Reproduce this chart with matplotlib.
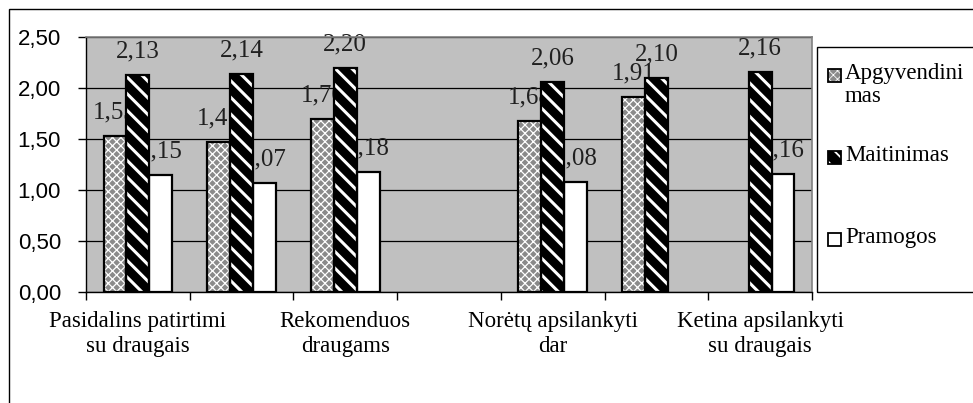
import numpy as np
import matplotlib
matplotlib.use("Agg")
import matplotlib.pyplot as plt
from matplotlib.patches import Rectangle

# Seven categories, Excel only printed every second label.
categories = [
    "Pasidalins patirtimi\nsu draugais", "",
    "Rekomenduos\ndraugams", "",
    "Norėtų apsilankyti\ndar", "",
    "Ketina apsilankyti\nsu draugais",
]
series = ["Apgyvendinimas", "Maitinimas", "Pramogos"]
legend_labels = ["Apgyvendini\nmas", "Maitinimas", "Pramogos"]
apgyvendinimas = [1.53, 1.47, 1.70, np.nan, 1.68, 1.91, np.nan]
maitinimas = [2.13, 2.14, 2.20, np.nan, 2.06, 2.10, 2.16]
pramogos = [1.15, 1.07, 1.18, np.nan, 1.08, np.nan, 1.16]
yticks = [0.0, 0.5, 1.0, 1.5, 2.0, 2.5]

SERIF = "Liberation Serif"
SANS = "Liberation Sans"

W, H = 973, 403
fig = plt.figure(figsize=(W / 100, H / 100), dpi=100)
ax = fig.add_axes([86 / W, 1 - 292 / H, (812 - 86) / W, (292 - 37) / H])
ax.set_facecolor("#c0c0c0")

# styles: (face, hatch, hatch colour, hatch linewidth)
styles = [
    ("#8a8a8a", "xxxx", "white", 0.9),
    ("black", "\\\\", "white", 2.2),
    ("white", "", "white", 1.0),
]
values = [apgyvendinimas, maitinimas, pramogos]

x = np.arange(len(categories))
bw = 0.22
for i, (vals, (fc, hatch, hc, hlw)) in enumerate(zip(values, styles)):
    pos = x + (i - 1) * bw
    with plt.rc_context({"hatch.linewidth": hlw}):
        ax.bar(pos, vals, bw, facecolor=fc, edgecolor=hc, hatch=hatch,
               linewidth=0, zorder=3)
    ax.bar(pos, vals, bw, fill=False, edgecolor="black", linewidth=1.6, zorder=4)
    # value labels sit behind the bars, as in the source
    for px, v in zip(pos, vals):
        if np.isnan(v):
            continue
        ax.annotate(f"{v:.2f}".replace(".", ","), (px, v), xytext=(0, 9),
                    textcoords="offset points", ha="center", va="bottom",
                    fontsize=18, family=SERIF, color="#202020", zorder=2.5)

ax.set_xlim(-0.5, len(categories) - 0.5)
ax.set_ylim(0, 2.5)
ax.set_yticks(yticks)
ax.set_yticklabels([f"{t:.2f}".replace(".", ",") for t in yticks],
                   family=SANS, fontsize=16)
ax.yaxis.grid(True, color="black", linewidth=0.9, zorder=1)
ax.set_axisbelow(True)

ax.set_xticks(x)
ax.set_xticklabels(categories, family=SERIF, fontsize=16.5, linespacing=1.2)
ax.set_xticks(np.arange(len(categories) + 1) - 0.5, minor=True)
ax.tick_params(axis="x", which="major", length=0, pad=14)
ax.tick_params(axis="x", which="minor", length=6, width=1, color="black")
ax.tick_params(axis="y", length=6, width=1, pad=12)

for side in ("top", "right"):
    ax.spines[side].set_color("#808080")
    ax.spines[side].set_linewidth(1.2)
for side in ("left", "bottom"):
    ax.spines[side].set_color("black")
    ax.spines[side].set_linewidth(1)

# outer chart border (extends past the image on right and bottom)
fig.add_artist(Rectangle((9 / W, -0.1), 1.2, 1.1 - 9 / H, transform=fig.transFigure,
                         fill=False, edgecolor="black", linewidth=1))

# legend box, clipped at the right edge like the source
fig.add_artist(Rectangle((817 / W, 1 - 292 / H), 0.3, (292 - 47) / H,
                         transform=fig.transFigure, fill=False,
                         edgecolor="black", linewidth=1))
for k, (lab, (fc, hatch, hc, hlw)) in enumerate(zip(legend_labels, styles)):
    yc = 76 + k * 82
    with plt.rc_context({"hatch.linewidth": hlw * 0.6}):
        fig.add_artist(Rectangle((828 / W, 1 - (yc + 6) / H), 13 / W, 13 / H,
                                 transform=fig.transFigure, facecolor=fc,
                                 edgecolor=hc, hatch=hatch, linewidth=0))
    fig.add_artist(Rectangle((828 / W, 1 - (yc + 6) / H), 13 / W, 13 / H,
                             transform=fig.transFigure, fill=False,
                             edgecolor="black", linewidth=1.3))
    fig.text(845 / W, 1 - (yc - 13) / H, lab, family=SERIF, fontsize=16.5,
             ha="left", va="top", linespacing=1.15)

fig.savefig("out.png", dpi=100)
